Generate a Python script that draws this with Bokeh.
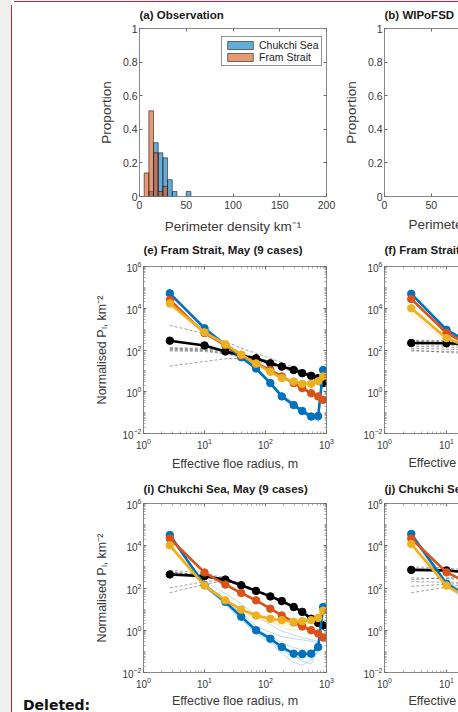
from bokeh.plotting import figure
from bokeh.layouts import row, column
from bokeh.models import (Range1d, FixedTicker, LinearAxis, LogAxis, Legend, LegendItem,
                          NumeralTickFormatter, Title, Div, Spacer, CustomLabelingPolicy)
from bokeh.embed import file_html
from bokeh.resources import INLINE

# ---------------- data ----------------
bin_left = [5, 10, 15, 20, 25, 30, 35, 40, 45, 50]
bin_width = 5
chukchi_prop = [0.0, 0.03, 0.32, 0.26, 0.23, 0.10, 0.03, 0.0, 0.0, 0.03]
fram_prop = [0.14, 0.51, 0.26, 0.03, 0.06, 0.0, 0.0, 0.0, 0.0, 0.0]

hist_xticks = [0, 50, 100, 150, 200]
hist_yticks = [0, 0.2, 0.4, 0.6, 0.8, 1.0]
log_xticks = [1, 10, 100, 1000]
log_yticks = [1e-2, 1e0, 1e2, 1e4, 1e6]

radius = [2.7, 10, 22, 40, 70, 120, 185, 290, 400, 560, 730, 880]
radius_short = [2.7, 10, 22]

# (e) Fram Strait
e_black_mean = [280, 165, 85, 55, 40, 23, 16, 11, 7.8, 5.8, 4.5, 2.6]
e_blue_mean = [5.2e4, 1.1e3, 170, 45, 13, 2.6, 0.6, 0.23, 0.12, 0.065, 0.068, 11]
e_orange_mean = [2.5e4, 640, 170, 55, 23, 11, 5.4, 2.6, 1.5, 0.85, 0.6, 0.41]
e_yellow_mean = [1.7e4, 700, 190, 60, 22, 9, 4.5, 3.1, 2.4, 2.4, 3.2, 5.4]
e_black_cases = [
    [1500, 620, 260, 120, 70, 40, 25, 15, 10, 6.5, 4.5, 3.0],
    [17, 28, 38, 40, 35, 25, 18, 12, 8.5, 6.0, 4.5, 3.2],
    [120, 110, 90, 60, 42, 26, 17, 12, 8.0, 6.0, 5.0, 3.5],
    [100, 95, 70, 50, 35, 22, 15, 10, 7.0, 5.0, 4.0, 2.5],
    [90, 85, 65, 45, 30, 20, 13, 9.0, 7.0, 5.5, 4.0, 8.0],
    [110, 100, 80, 55, 38, 26, 16, 11, 8.5, 6.5, 5.0, 1.5],
    [130, 120, 95, 65, 45, 28, 18, 13, 9.0, 7.0, 5.5, 4.0],
]
e_blue_cases = [
    [4.5e4, 1.3e3, 200, 52, 15, 3.2, 0.8, 0.30, 0.15, 0.085, 0.09, 9],
    [5.8e4, 1.0e3, 150, 40, 11, 2.2, 0.5, 0.19, 0.10, 0.055, 0.05, 12],
    [3.9e4, 1.2e3, 185, 48, 14, 2.9, 0.7, 0.27, 0.14, 0.075, 0.06, 10],
    [6.3e4, 950, 160, 42, 12, 2.4, 0.55, 0.21, 0.10, 0.05, 0.045, 13],
    [5.0e4, 1.15e3, 175, 46, 13.5, 2.7, 0.65, 0.25, 0.13, 0.07, 0.035, 11],
]
e_orange_cases = [
    [2.2e4, 700, 185, 58, 25, 12, 6.0, 2.9, 1.7, 1.0, 0.70, 0.50],
    [2.8e4, 600, 160, 52, 21, 10, 4.9, 2.3, 1.3, 0.75, 0.52, 0.35],
]
e_yellow_cases = [
    [1.2e4, 650, 210, 70, 25, 10, 5.0, 3.4, 2.7, 2.8, 3.8, 6.5],
    [2.2e4, 800, 200, 55, 19, 8, 4.0, 2.8, 2.1, 2.1, 2.8, 4.8],
    [1.5e4, 600, 175, 63, 24, 9.5, 4.8, 3.3, 2.6, 2.6, 3.5, 6.0],
    [2.0e4, 760, 230, 66, 20, 8.5, 4.2, 2.9, 2.2, 2.3, 3.0, 5.0],
]

# (i) Chukchi Sea
i_black_mean = [440, 360, 250, 135, 73, 40, 24, 12.6, 7.4, 3.5, 2.2, 1.7]
i_blue_mean = [3.2e4, 135, 22, 4.4, 1.0, 0.4, 0.16, 0.078, 0.075, 0.078, 0.16, 12.6]
i_orange_mean = [2.2e4, 540, 145, 58, 26, 10.5, 5.0, 2.4, 1.5, 1.0, 0.7, 0.45]
i_yellow_mean = [1.05e4, 130, 26, 9.5, 5.0, 3.5, 3.0, 2.5, 2.7, 3.0, 3.8, 8.5]
i_black_cases = [
    [700, 500, 300, 160, 85, 45, 27, 14, 8.0, 4.0, 2.5, 1.5],
    [60, 150, 220, 150, 80, 42, 25, 13, 8.0, 4.0, 2.4, 2.0],
    [100, 200, 240, 140, 75, 40, 23, 12, 7.0, 3.5, 2.0, 1.2],
    [550, 420, 260, 130, 70, 38, 22, 12, 7.0, 3.6, 2.2, 1.8],
    [600, 380, 230, 125, 68, 36, 21, 11, 6.5, 3.2, 2.0, 1.6],
    [500, 330, 270, 145, 78, 44, 26, 14, 8.5, 4.2, 2.8, 2.2],
]
i_blue_cases = [
    [2.6e4, 160, 30, 6.0, 1.6, 0.8, 0.5, 0.40, 0.35, 0.30, 0.25, 10],
    [3.8e4, 120, 18, 3.5, 0.7, 0.25, 0.08, 0.030, 0.022, 0.040, 0.10, 14],
    [3.0e4, 150, 25, 5.0, 1.2, 0.5, 0.25, 0.15, 0.12, 0.10, 0.14, 11],
    [3.5e4, 110, 16, 3.0, 0.8, 0.3, 0.12, 0.05, 0.05, 0.06, 0.20, 13],
    [2.5e4, 200, 55, 18, 5.0, 1.8, 0.9, 0.6, 0.45, 0.35, 0.30, 9],
    [3.3e4, 125, 20, 4.0, 0.9, 0.35, 0.14, 0.07, 0.035, 0.025, 0.12, 12],
]
i_orange_cases = [
    [2.0e4, 580, 155, 62, 28, 11.5, 5.5, 2.7, 1.7, 1.1, 0.8, 0.5],
    [2.5e4, 500, 135, 54, 24, 9.5, 4.5, 2.2, 1.3, 0.9, 0.6, 0.4],
]
i_yellow_cases = [
    [8.0e3, 110, 20, 7.0, 3.5, 2.2, 1.8, 1.5, 1.5, 1.7, 2.2, 7],
    [1.3e4, 150, 30, 11, 6.0, 4.0, 3.3, 2.8, 2.9, 3.2, 3.8, 9],
    [1.0e4, 125, 24, 8.0, 4.0, 2.8, 2.2, 1.9, 2.0, 2.3, 3.0, 8],
    [1.2e4, 140, 28, 10, 5.5, 3.0, 1.3, 1.0, 1.1, 1.4, 2.0, 6],
]

# (f) Fram Strait, second model (only left part visible)
f_black_mean = [215, 210, 190]
f_blue_mean = [4.9e4, 930, 250]
f_orange_mean = [2.8e4, 650, 190]
f_yellow_mean = [1.0e4, 370, 140]
f_black_cases = [[300, 280, 250], [250, 230, 210], [180, 170, 160], [120, 110, 100],
                 [90, 85, 80], [150, 140, 130], [270, 260, 240], [100, 75, 70]]
f_blue_cases = [[4.2e4, 850, 230], [5.5e4, 1.0e3, 270]]
f_orange_cases = [[2.4e4, 600, 180], [3.2e4, 700, 210]]
f_yellow_cases = [[7e3, 300, 120], [1.3e4, 450, 160], [9e3, 330, 140], [5e3, 250, 100]]

# (j) Chukchi Sea, second model (only left part visible)
j_black_mean = [720, 680, 550]
j_blue_mean = [3.6e4, 160, 40]
j_orange_mean = [2.2e4, 550, 180]
j_yellow_mean = [1.2e4, 130, 35]
j_black_cases = [[1000, 900, 700], [800, 750, 600], [300, 280, 250], [200, 190, 180],
                 [120, 150, 170], [60, 110, 160], [250, 300, 320]]
j_blue_cases = [[3.0e4, 130, 30], [4.2e4, 200, 50], [2.6e4, 110, 25]]
j_orange_cases = [[2.0e4, 500, 170], [2.5e4, 600, 200]]
j_yellow_cases = [[1.0e4, 110, 30], [1.4e4, 160, 45], [5e3, 180, 60]]

# ---------------- style ----------------
FONT = "Liberation Sans"
AXC = "#6b6b6b"
TXT = "#383838"
BLUE = "#0072BD"
ORANGE = "#D95319"
YELLOW = "#EDB120"
RED = "#c41f3e"

log_xminor = [m * 10 ** k for k in range(0, 3) for m in range(2, 10)]
log_yminor = [m * 10 ** k for k in range(-2, 6) for m in range(1, 10) if not (m == 1 and k % 2 == 0)]

HIDE_ALL = CustomLabelingPolicy(code="for (const i of indices) { indices.unset(i) }")


def style_axis(ax, ticks, minor, tick_size, labels=True):
    ax.ticker = FixedTicker(ticks=ticks, minor_ticks=minor)
    ax.axis_line_color = AXC
    ax.axis_line_width = 0.8
    ax.major_tick_line_color = AXC
    ax.minor_tick_line_color = AXC
    ax.major_tick_in = 3
    ax.major_tick_out = 0
    ax.minor_tick_in = 2
    ax.minor_tick_out = 0
    ax.minor_tick_line_width = 0.6
    ax.major_label_text_font = FONT
    ax.major_label_text_color = TXT
    ax.major_label_standoff = 4
    ax.major_label_text_font_size = tick_size
    if not labels:
        ax.major_label_standoff = 0
        ax.major_label_text_font_size = "1px"
        ax.major_label_policy = HIDE_ALL
    ax.axis_label_text_font = FONT
    ax.axis_label_text_font_style = "normal"
    ax.axis_label_text_color = TXT


def base_fig(width, height, xr, yr, log, mb, title, tsize, tstand):
    kw = dict(x_axis_type="log", y_axis_type="log") if log else {}
    p = figure(width=width, height=height, x_range=Range1d(*xr), y_range=Range1d(*yr),
               toolbar_location=None, output_backend="svg",
               min_border_left=mb[0], min_border_right=mb[1],
               min_border_top=mb[2], min_border_bottom=mb[3], **kw)
    p.outline_line_color = None
    p.xgrid.visible = False
    p.ygrid.visible = False
    p.background_fill_color = "white"
    p.border_fill_alpha = 0
    p.title.text = title
    p.title.align = "left"
    p.title.text_font = FONT
    p.title.text_font_size = tsize
    p.title.text_font_style = "bold"
    p.title.text_color = "#1a1a1a"
    p.title.standoff = tstand
    return p


def add_mirrors(p, log, xt, xm, yt, ym, right=True):
    Ax = LogAxis if log else LinearAxis
    top = Ax()
    style_axis(top, xt, xm, "1px", labels=False)
    p.add_layout(top, "above")
    if right:
        rt = Ax()
        style_axis(rt, yt, ym, "1px", labels=False)
        p.add_layout(rt, "right")


def below_title(p, text, size, offset, standoff):
    p.add_layout(Title(text=text, align="left", offset=offset, standoff=standoff,
                       text_font=FONT, text_font_size=size, text_font_style="normal",
                       text_color=TXT), "below")


def draw_model(p, x, black, blue, orange, yellow):
    thin = [(black[1], "#303030", "3 2", 0.75), (blue[1], BLUE, "solid", 0.45),
            (orange[1], ORANGE, "solid", 0.45), (yellow[1], YELLOW, "solid", 0.45)]
    for cases, color, dash, alpha in thin:
        p.multi_line(xs=[x] * len(cases), ys=cases, line_color=color, line_width=0.6,
                     line_alpha=alpha, line_dash=dash)
    for mean, color in [(black[0], "#000000"), (blue[0], BLUE), (orange[0], ORANGE), (yellow[0], YELLOW)]:
        p.line(x, mean, line_color=color, line_width=2.6)
        p.scatter(x, mean, marker="circle", size=7.5, fill_color=color, line_color=color)


# ---------------- row 1: histograms ----------------
R1H, R2H, R3H = 236, 239, 237
LW, RW = 248, 118
TSIZE = "11.5px"

fa = base_fig(LW, R1H, (0, 200), (0, 1), False, (47, 14, 28, 39), "(a) Observation", TSIZE, 7)
style_axis(fa.xaxis[0], hist_xticks, [], "10.5px")
style_axis(fa.yaxis[0], hist_yticks, [], "10.5px")
fa.yaxis[0].major_label_standoff = 2
fa.yaxis[0].formatter = NumeralTickFormatter(format="0.[0]")
fa.xaxis[0].axis_label = "Perimeter density km⁻¹"
fa.yaxis[0].axis_label = "Proportion"
fa.xaxis[0].axis_label_text_font_size = "13.5px"
fa.yaxis[0].axis_label_text_font_size = "13.5px"
fa.xaxis[0].axis_label_standoff = 7
fa.yaxis[0].axis_label_standoff = 6
add_mirrors(fa, False, hist_xticks, [], hist_yticks, [])

c_l = [b for b, v in zip(bin_left, chukchi_prop) if v > 0]
c_v = [v for v in chukchi_prop if v > 0]
f_l = [b for b, v in zip(bin_left, fram_prop) if v > 0]
f_v = [v for v in fram_prop if v > 0]
rc = fa.quad(left=c_l, right=[b + bin_width for b in c_l], bottom=0, top=c_v,
             fill_color=BLUE, fill_alpha=0.6, line_color="#1a1a1a", line_width=0.6)
rf = fa.quad(left=f_l, right=[b + bin_width for b in f_l], bottom=0, top=f_v,
             fill_color=ORANGE, fill_alpha=0.6, line_color="#1a1a1a", line_width=0.6)
leg = Legend(items=[LegendItem(label="Chukchi Sea", renderers=[rc]),
                    LegendItem(label="Fram Strait", renderers=[rf])],
             location=(82, 130))
leg.label_text_font = FONT
leg.label_text_font_size = "10.5px"
leg.label_text_color = "#1a1a1a"
leg.glyph_width = 32
leg.glyph_height = 10
leg.label_height = 10
leg.label_standoff = 3
leg.spacing = 0
leg.padding = 2
leg.margin = 0
leg.border_line_color = "#262626"
leg.border_line_width = 0.8
leg.background_fill_alpha = 1
fa.add_layout(leg)

fb = base_fig(RW, R1H, (0, 79.1), (0, 1), False, (44, 0, 28, 39), "(b) WIPoFSD", TSIZE, 7)
style_axis(fb.xaxis[0], hist_xticks, [], "10.5px")
style_axis(fb.yaxis[0], hist_yticks, [], "10.5px")
fb.yaxis[0].major_label_standoff = 2
fb.yaxis[0].formatter = NumeralTickFormatter(format="0.[0]")
fb.yaxis[0].axis_label = "Proportion"
fb.yaxis[0].axis_label_text_font_size = "13.5px"
fb.yaxis[0].axis_label_standoff = 6
add_mirrors(fb, False, hist_xticks, [], hist_yticks, [], right=False)
below_title(fb, "Perimeter density km⁻¹", "13.5px", 24, 7)

# ---------------- rows 2 and 3: spectra ----------------
YLAB = "Normalised Pₗ, km⁻²"
XLAB = "Effective floe radius, m"


def spectra_pair(h, mb_top, mb_bot, tl, tr, tstand, xlab_standoff, left_data, right_data):
    pl = base_fig(LW, h, (1, 1000), (1e-2, 1e6), True, (47, 14, mb_top, mb_bot), tl, TSIZE, tstand)
    style_axis(pl.xaxis[0], log_xticks, log_xminor, "10px")
    style_axis(pl.yaxis[0], log_yticks, log_yminor, "10px")
    pl.yaxis[0].major_label_standoff = 2
    pl.xaxis[0].axis_label = XLAB
    pl.yaxis[0].axis_label = YLAB
    pl.xaxis[0].axis_label_text_font_size = "12.5px"
    pl.yaxis[0].axis_label_text_font_size = "12.5px"
    pl.xaxis[0].axis_label_standoff = xlab_standoff
    pl.yaxis[0].axis_label_standoff = 10
    add_mirrors(pl, True, log_xticks, log_xminor, log_yticks, log_yminor)
    draw_model(pl, radius, *left_data)

    pr = base_fig(RW, h, (1, 15.6), (1e-2, 1e6), True, (44, 0, mb_top, mb_bot), tr, TSIZE, tstand)
    style_axis(pr.xaxis[0], log_xticks, log_xminor, "10px")
    style_axis(pr.yaxis[0], log_yticks, log_yminor, "10px")
    pr.yaxis[0].major_label_standoff = 2
    add_mirrors(pr, True, log_xticks, log_xminor, log_yticks, log_yminor, right=False)
    below_title(pr, XLAB, "12.5px", 24, xlab_standoff)
    draw_model(pr, radius_short, *right_data)
    return pl, pr


fe, ff = spectra_pair(R2H, 30, 42, "(e) Fram Strait, May (9 cases)", "(f) Fram Strait, May (9 cases)", 11, 5,
                      [(e_black_mean, e_black_cases), (e_blue_mean, e_blue_cases),
                       (e_orange_mean, e_orange_cases), (e_yellow_mean, e_yellow_cases)],
                      [(f_black_mean, f_black_cases), (f_blue_mean, f_blue_cases),
                       (f_orange_mean, f_orange_cases), (f_yellow_mean, f_yellow_cases)])
fi, fj = spectra_pair(R3H, 28, 40, "(i) Chukchi Sea, May (9 cases)", "(j) Chukchi Sea, May (9 cases)", 8, 3,
                      [(i_black_mean, i_black_cases), (i_blue_mean, i_blue_cases),
                       (i_orange_mean, i_orange_cases), (i_yellow_mean, i_yellow_cases)],
                      [(j_black_mean, j_black_cases), (j_blue_mean, j_blue_cases),
                       (j_orange_mean, j_orange_cases), (j_yellow_mean, j_yellow_cases)])

# ---------------- page frame ----------------
deleted = Div(text='<div style="padding-left:18px;font-family:\'DejaVu Sans\';font-weight:bold;'
                   'font-size:14px;color:#111111;line-height:20px;">Deleted:</div>',
              width=92, height=20)
left_bg = ("linear-gradient(180deg, " + RED + " 0px, " + RED + " 1px, transparent 1px) 14px 1px / calc(100% - 14px) 2px no-repeat, "
           "linear-gradient(90deg, #f0f0f0 0px, #f0f0f0 11px, " + RED + " 11px, " + RED + " 12px, #ffffff 12px) 0px 5px / 100% calc(100% - 5px) no-repeat, "
           "linear-gradient(90deg, #f0f0f0 0px, #f0f0f0 11px, #ffffff 11px)")
left_col = column(Spacer(width=92, height=690), deleted, width=92, height=712,
                  styles={"background": left_bg})
top_bg = "linear-gradient(180deg, #ffffff 0px, #ffffff 1px, " + RED + " 1px, " + RED + " 2px, #ffffff 2px)"
row1 = row(fa, fb, styles={"background": top_bg})
grid = column(row1, row(fe, ff), row(fi, fj), styles={"background": "#ffffff"})
layout = row(left_col, grid)

open("out.html", "w").write(file_html(layout, INLINE))
